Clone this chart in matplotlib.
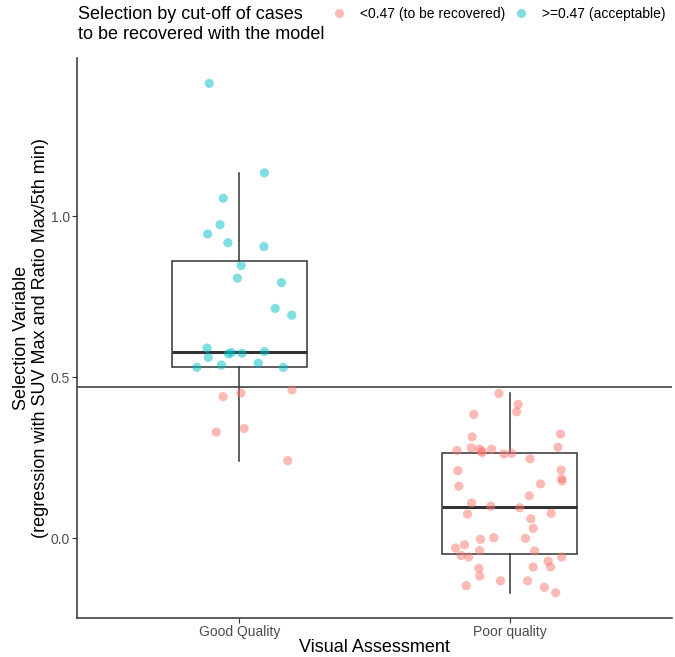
import matplotlib
matplotlib.use("Agg")
import matplotlib.pyplot as plt
from matplotlib.lines import Line2D
import numpy as np

plt.rcParams['font.family'] = ['Liberation Sans', 'DejaVu Sans']

categories = ["Good Quality", "Poor quality"]
cutoff = 0.47

# Selection variable per case, with horizontal jitter offsets (category units)
good_values = [1.412, 1.134, 1.055, 0.973, 0.944, 0.917, 0.905, 0.846, 0.807,
               0.793, 0.713, 0.692, 0.590, 0.561, 0.572, 0.576, 0.574, 0.579,
               0.530, 0.537, 0.543, 0.530,
               0.460, 0.450, 0.439, 0.340, 0.329, 0.240]
good_jitter = [-0.111, 0.093, -0.059, -0.071, -0.117, -0.042, 0.091, 0.007, -0.007,
               0.156, 0.133, 0.194, -0.119, -0.115, -0.040, -0.029, 0.010, 0.093,
               -0.157, -0.066, 0.070, 0.163,
               0.195, 0.006, -0.060, 0.018, -0.085, 0.179]

poor_values = [0.449, 0.415, 0.392, 0.384, 0.323, 0.314, 0.282, 0.280, 0.276,
               0.270, 0.265, 0.276, 0.272, 0.261, 0.263, 0.246, 0.209, 0.211,
               0.184, 0.177, 0.161, 0.168, 0.131, 0.109, 0.099, 0.094, 0.074,
               0.077, 0.060, 0.030, 0.001, -0.004, -0.001, -0.021, -0.031, -0.039,
               -0.040, -0.054, -0.059, -0.059, -0.072, -0.090, -0.090, -0.094,
               -0.118, -0.133, -0.133, -0.148, -0.153, -0.170]
poor_jitter = [-0.040, 0.031, 0.026, -0.133, 0.188, -0.139, 0.178, -0.142, -0.113,
               -0.103, -0.102, -0.067, -0.195, -0.022, 0.007, 0.075, -0.192, 0.190,
               0.192, 0.194, -0.188, 0.114, 0.072, -0.141, -0.070, 0.037, -0.156,
               0.153, 0.078, 0.087, -0.059, -0.108, 0.058, -0.167, -0.200, -0.111,
               0.092, -0.180, -0.152, 0.192, 0.142, 0.151, 0.087, -0.114, -0.111,
               -0.034, 0.066, -0.161, 0.128, 0.170]

legend_labels = ["<0.47 (to be recovered)", ">=0.47 (acceptable)"]
colors = ["#F8766D", "#00BFC4"]

fig = plt.figure(figsize=(6.75, 6.57), dpi=100)
ax = fig.add_axes([77 / 675, 1 - 618 / 657, 595 / 675, 560 / 657])

line_col = "#333333"
positions = [1, 2]
ax.boxplot([good_values, poor_values], positions=positions, widths=0.5,
           whis=1.5, showfliers=False, patch_artist=True, zorder=1,
           boxprops=dict(facecolor="white", edgecolor=line_col, linewidth=1.1),
           medianprops=dict(color=line_col, linewidth=2.2),
           whiskerprops=dict(color=line_col, linewidth=1.1),
           capprops=dict(linewidth=0))

ax.axhline(cutoff, color=line_col, linewidth=1.1, zorder=2)

for pos, vals, jit in zip(positions, [good_values, poor_values], [good_jitter, poor_jitter]):
    vals = np.asarray(vals)
    x = pos + np.asarray(jit)
    c = [colors[1] if v >= cutoff else colors[0] for v in vals]
    ax.scatter(x, vals, s=44, c=c, alpha=0.5, linewidths=0, zorder=3)

ax.set_xlim(0.4, 2.6)
ax.set_ylim(-0.2484, 1.4907)
ax.set_xticks(positions)
ax.set_xticklabels(categories)
ax.set_yticks([0.0, 0.5, 1.0])
ax.set_yticklabels(["0.0", "0.5", "1.0"])
ax.tick_params(axis="both", colors=line_col, labelcolor="#4D4D4D",
               labelsize=10, length=3.5, width=0.8, pad=1.5)

for side in ["top", "right"]:
    ax.spines[side].set_visible(False)
for side in ["left", "bottom"]:
    ax.spines[side].set_color(line_col)
    ax.spines[side].set_linewidth(1.1)

ax.set_xlabel("Visual Assessment", fontsize=13, color="black", labelpad=0)
ax.set_ylabel("Selection Variable\n(regression with SUV Max and Ratio Max/5th min)",
              fontsize=13, color="black", labelpad=1.5, linespacing=1.1)

fig.text(78 / 675, 1 - 6 / 657, "Selection by cut-off of cases\nto be recovered with the model",
         ha="left", va="top", fontsize=13, linespacing=1.2)

handles = [Line2D([], [], marker="o", linestyle="", markersize=6.5,
                  markerfacecolor=col, markeredgewidth=0, alpha=0.5) for col in colors]
fig.legend(handles, legend_labels, loc="center left",
           bbox_to_anchor=(331 / 675, 1 - 14 / 657), ncol=2, frameon=False,
           fontsize=10, handletextpad=0.9, columnspacing=0.55, handlelength=1.2,
           borderaxespad=0, borderpad=0)

fig.savefig("out.png", dpi=100, facecolor="white")
